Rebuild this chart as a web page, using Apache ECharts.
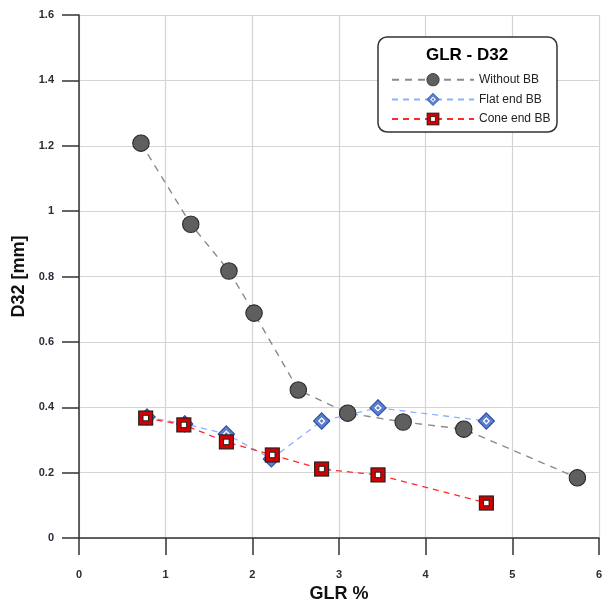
<!DOCTYPE html>
<html><head><meta charset="utf-8">
<script src="https://cdn.jsdelivr.net/npm/echarts@6/dist/echarts.min.js"></script>
<style>html,body{margin:0;padding:0;background:#fff}#c{width:604px;height:599px}</style>
</head><body><div id="c"></div>
<script>
const withoutBB = [[0.715,1.208],[1.29,0.96],[1.73,0.817],[2.02,0.688],[2.53,0.453],[3.10,0.382],[3.74,0.355],[4.44,0.333],[5.75,0.184]];
const flatBB = [[0.785,0.37],[1.22,0.349],[1.70,0.318],[2.22,0.242],[2.80,0.358],[3.45,0.398],[4.70,0.358]];
const coneBB = [[0.77,0.367],[1.21,0.346],[1.70,0.294],[2.23,0.254],[2.80,0.211],[3.45,0.193],[4.70,0.107]];
const seriesNames = ['Without BB','Flat end BB','Cone end BB'];
const xTicks = [0,1,2,3,4,5,6];
const yTicks = [0,0.2,0.4,0.6,0.8,1,1.2,1.4,1.6];

function svg(s){return 'image://data:image/svg+xml;charset=utf-8,'+encodeURIComponent(s);}
const circleSym = svg('<svg xmlns="http://www.w3.org/2000/svg" width="36" height="36"><circle cx="18" cy="18" r="16.5" fill="#5f5f5f" stroke="#2a2a2a" stroke-width="2.2"/></svg>');
const diamondSym = svg('<svg xmlns="http://www.w3.org/2000/svg" width="32" height="32"><polygon points="16,1.5 30.5,16 16,30.5 1.5,16" fill="#5b80d6" stroke="#2d4f9e" stroke-width="2"/><polygon points="16,8.5 23.5,16 16,23.5 8.5,16" fill="#fff" stroke="#2d4f9e" stroke-width="1"/><polygon points="16,12.5 19.5,16 16,19.5 12.5,16" fill="#5b80d6"/></svg>');
const squareSym = svg('<svg xmlns="http://www.w3.org/2000/svg" width="32" height="32"><rect x="2" y="2" width="28" height="28" fill="#d40000" stroke="#222" stroke-width="2.4"/><rect x="10.5" y="10.5" width="11" height="11" fill="#fff" stroke="#222" stroke-width="2"/></svg>');

const chart = echarts.init(document.getElementById('c'));
const axisFont = {color:'#2b2b3a', fontSize:11, fontWeight:'bold', fontFamily:'Liberation Sans, Arial, sans-serif'};
chart.setOption({
  animation:false,
  textStyle:{fontFamily:'Liberation Sans, Arial, sans-serif'},
  grid:{left:79,right:5,top:15,bottom:61,containLabel:false,outerBoundsMode:'none'},
  xAxis:{type:'value',min:xTicks[0],max:xTicks[xTicks.length-1],interval:1,
    name:'GLR %',nameLocation:'middle',nameGap:42,
    nameTextStyle:{fontSize:18,fontWeight:'bold',color:'#111'},
    axisLine:{show:true,onZero:false,lineStyle:{color:'#333',width:1.5}},
    axisTick:{show:true,inside:false,length:17,lineStyle:{color:'#333',width:1.5}},
    axisLabel:Object.assign({margin:31},axisFont),
    splitLine:{show:true,lineStyle:{color:'#d4d4d4',width:1.2}}},
  yAxis:{type:'value',min:yTicks[0],max:yTicks[yTicks.length-1],interval:0.2,
    name:'D32 [mm]',nameLocation:'middle',nameGap:45,nameRotate:90,
    nameTextStyle:{fontSize:18,fontWeight:'bold',color:'#111'},
    axisLine:{show:true,onZero:false,lineStyle:{color:'#333',width:1.5}},
    axisTick:{show:true,inside:false,length:17,lineStyle:{color:'#333',width:1.5}},
    axisLabel:Object.assign({margin:25,formatter:v=>String(Math.round(v*10)/10)},axisFont),
    splitLine:{show:true,lineStyle:{color:'#d4d4d4',width:1.2}}},
  graphic:[
    {type:'rect',shape:{x:378,y:37,width:179,height:95,r:9},style:{fill:'#fff',stroke:'#333',lineWidth:1.5},z:90},
    {type:'text',x:467,y:55,style:{text:'GLR - D32',font:'bold 17px Liberation Sans, Arial, sans-serif',fill:'#000',align:'center',verticalAlign:'middle'},z:91}
  ],
  legend:{data:seriesNames,orient:'vertical',left:386,top:68,itemWidth:82,itemHeight:17,itemGap:6,
    textStyle:{fontSize:12,color:'#222',padding:[0,0,0,0]},z:95},
  series:[
    {name:'Flat end BB',type:'line',data:flatBB,symbol:diamondSym,symbolSize:18,
      lineStyle:{type:[6,5],color:'#8fb0ff',width:1.3},itemStyle:{color:'#8fb0ff'},z:3},
    {name:'Cone end BB',type:'line',data:coneBB,symbol:squareSym,symbolSize:16,
      lineStyle:{type:[6,5],color:'#ff2a2a',width:1.3},itemStyle:{color:'#ff2a2a'},z:4},
    {name:'Without BB',type:'line',data:withoutBB,symbol:circleSym,symbolSize:18,
      lineStyle:{type:[7,6],color:'#8a8a8a',width:1.4},itemStyle:{color:'#8a8a8a'},z:5}
  ]
});
</script></body></html>
